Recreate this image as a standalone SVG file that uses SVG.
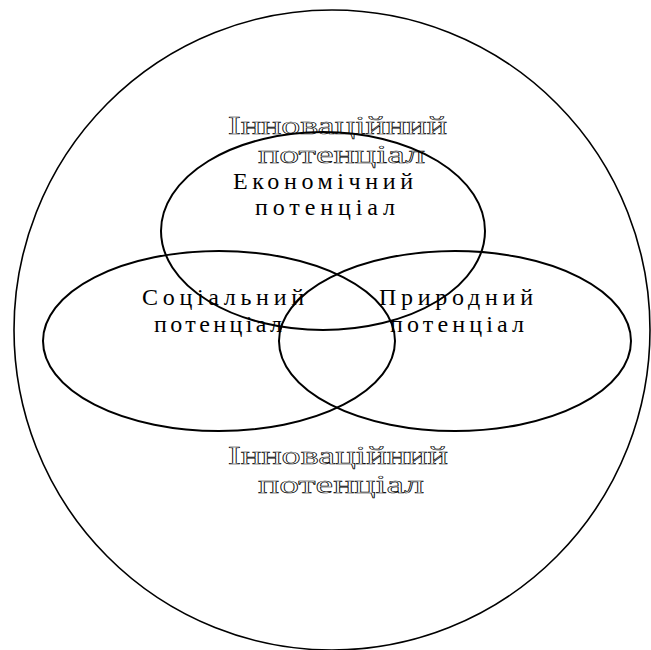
<svg xmlns="http://www.w3.org/2000/svg" width="651" height="650" viewBox="0 0 651 650">
<style>
.shape{fill:none;stroke:#000;stroke-width:2}
.outer{fill:none;stroke:#000;stroke-width:1.6}
.lbl{font-family:"Liberation Serif","Times New Roman",serif;font-size:24px;fill:#000}
.inn{font-family:"Liberation Serif","Times New Roman",serif;font-size:25px;fill:#fff;stroke:#000;stroke-width:0.6}
</style>
<rect width="651" height="650" fill="#fff"/>
<g id="innovation">
<text class="inn" x="228" y="134" textLength="219" lengthAdjust="spacingAndGlyphs">Інноваційний</text>
<text class="inn" x="258" y="163" textLength="167" lengthAdjust="spacingAndGlyphs">потенціал</text>
<text class="inn" x="228" y="464" textLength="220" lengthAdjust="spacingAndGlyphs">Інноваційний</text>
<text class="inn" x="258" y="493" textLength="166" lengthAdjust="spacingAndGlyphs">потенціал</text>
<ellipse class="outer" cx="332" cy="330" rx="318" ry="320"/>
</g>
<g id="economic">
<text class="lbl" x="233" y="189" textLength="180" lengthAdjust="spacing">Економічний</text>
<text class="lbl" x="255" y="215" textLength="140" lengthAdjust="spacing">потенціал</text>
<ellipse class="shape" cx="323" cy="231" rx="162" ry="99"/>
</g>
<g id="social">
<text class="lbl" x="142" y="305" textLength="162" lengthAdjust="spacing">Соціальний</text>
<text class="lbl" x="154" y="332" textLength="128" lengthAdjust="spacing">потенціал</text>
<ellipse class="shape" cx="219" cy="341" rx="176" ry="90"/>
</g>
<g id="natural">
<text class="lbl" x="379" y="305" textLength="154" lengthAdjust="spacing">Природний</text>
<text class="lbl" x="390" y="332" textLength="134" lengthAdjust="spacing">потенціал</text>
<ellipse class="shape" cx="455" cy="341" rx="176" ry="90"/>
</g>
<g id="connectors"/>
</svg>
